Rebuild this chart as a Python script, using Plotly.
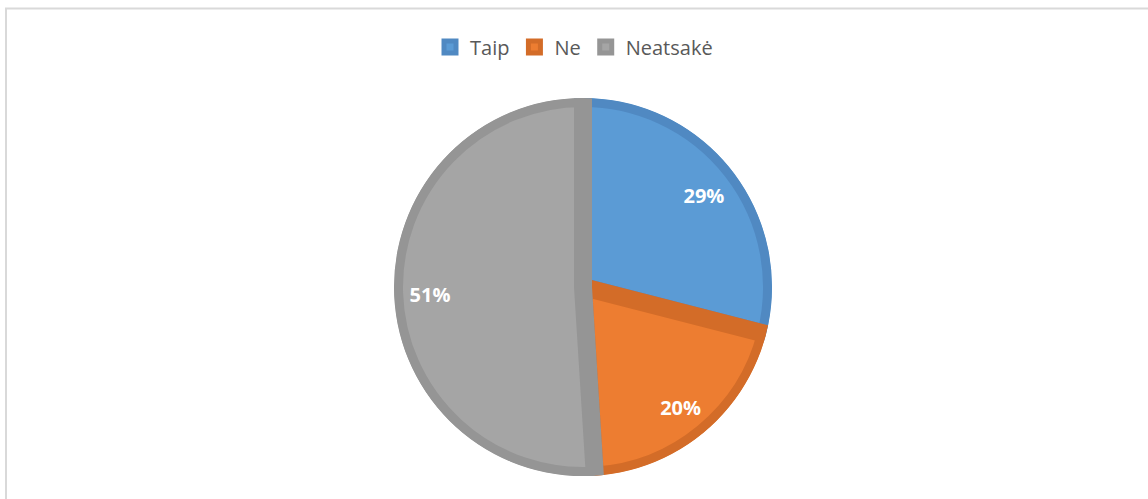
import plotly.graph_objects as go

labels = ["Taip", "Ne", "Neatsakė"]
values = [29, 20, 51]
fill_colors = ["#5B9BD5", "#ED7D31", "#A5A5A5"]
edge_colors = ["#5089C2", "#D36C28", "#959595"]

W, H = 1148, 499
cx, cy, r = 583, 287, 189     # pie centre and radius in px
label_r = 0.81                # Excel-style label distance (fraction of radius)
label_dy = 5                  # labels sit a few px lower than the centroid

total = sum(values)
shares = [v / total for v in values]
spans = [s * 360 for s in shares]
mids = []
start = 0
for s in spans:
    mids.append(start + s / 2)
    start += s


def domain(dy=0):
    return dict(x=[(cx - r) / W, (cx + r) / W],
                y=[1 - (cy + dy + r) / H, 1 - (cy + dy - r) / H])


hidden_polar = dict(
    bgcolor="rgba(0,0,0,0)",
    bargap=0,
    radialaxis=dict(range=[0, 1], visible=False, showgrid=False),
    angularaxis=dict(rotation=90, direction="clockwise", visible=False, showgrid=False),
)

fig = go.Figure()
# polar clips the outer half of the stroke, so this gives an inner border
for name, span, mid, fc, ec in zip(labels, spans, mids, fill_colors, edge_colors):
    fig.add_trace(go.Barpolar(
        name=name,
        r=[1],
        theta=[mid],
        width=[span],
        marker=dict(color=fc, line=dict(color=ec, width=18)),
        hovertemplate=name + ": %{customdata}<extra></extra>",
        customdata=[f"{round(span / 3.6)}%"],
    ))

fig.add_trace(go.Scatterpolar(
    subplot="polar2",
    r=[label_r] * len(values),
    theta=mids,
    mode="text",
    text=[f"<b>{round(s * 100)}%</b>" for s in shares],
    textfont=dict(family="Open Sans, sans-serif", size=20, color="white"),
    showlegend=False,
    hoverinfo="skip",
))

fig.update_layout(
    width=W,
    height=H,
    margin=dict(l=0, r=0, t=0, b=0),
    paper_bgcolor="white",
    font=dict(family="Open Sans, sans-serif", color="#595959"),
    polar=dict(domain=domain(), **hidden_polar),
    polar2=dict(domain=domain(label_dy), **hidden_polar),
    legend=dict(
        orientation="h",
        x=0.5, xanchor="center",
        y=1 - 47 / H, yanchor="middle",
        font=dict(size=20, color="#595959"),
    ),
    shapes=[dict(
        type="rect", xref="paper", yref="paper",
        x0=6 / W, x1=1.01, y0=-0.02, y1=1 - 8.5 / H,
        line=dict(color="#D9D9D9", width=2),
    )],
)

fig.write_html("out.html", config={"displayModeBar": False},
               post_script="document.body.style.margin='0';")
